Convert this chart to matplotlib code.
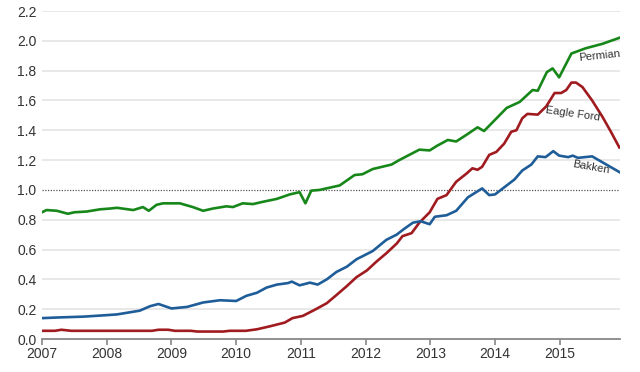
import numpy as np
import matplotlib
matplotlib.use("Agg")
import matplotlib.pyplot as plt

plt.rcParams['font.family'] = ['Liberation Sans', 'DejaVu Sans']

# decimal-year positions and values
permian_t = [2007.0, 2007.07, 2007.23, 2007.4, 2007.5, 2007.69, 2007.9, 2008.05, 2008.16, 2008.41,
             2008.56, 2008.65, 2008.77, 2008.87, 2009.13, 2009.33, 2009.49, 2009.64, 2009.85, 2009.95,
             2010.1, 2010.26, 2010.41, 2010.63, 2010.83, 2010.98, 2011.07, 2011.16, 2011.29, 2011.6,
             2011.83, 2011.95, 2012.11, 2012.4, 2012.52, 2012.83, 2012.99, 2013.1, 2013.27, 2013.4,
             2013.56, 2013.73, 2013.83, 2014.18, 2014.38, 2014.58, 2014.66, 2014.8, 2014.89, 2014.99,
             2015.18, 2015.4, 2015.66, 2015.92]
permian_v = [0.85, 0.865, 0.86, 0.84, 0.85, 0.855, 0.87, 0.875, 0.88, 0.865,
             0.885, 0.86, 0.90, 0.91, 0.91, 0.885, 0.86, 0.875, 0.89, 0.885,
             0.91, 0.905, 0.92, 0.94, 0.97, 0.985, 0.91, 0.995, 1.0, 1.03,
             1.10, 1.105, 1.14, 1.17, 1.20, 1.27, 1.265, 1.295, 1.335, 1.325,
             1.37, 1.42, 1.395, 1.55, 1.59, 1.67, 1.665, 1.79, 1.815, 1.755,
             1.915, 1.95, 1.98, 2.02]

eagle_t = [2007.0, 2007.2, 2007.3, 2007.45, 2008.7, 2008.8, 2008.95, 2009.05, 2009.3, 2009.4,
           2009.8, 2009.9, 2010.15, 2010.32, 2010.52, 2010.75, 2010.87, 2011.03, 2011.21, 2011.4,
           2011.55, 2011.71, 2011.86, 2012.02, 2012.17, 2012.32, 2012.48, 2012.57, 2012.71, 2012.83,
           2012.99, 2013.11, 2013.25, 2013.4, 2013.56, 2013.65, 2013.73, 2013.8, 2013.91, 2014.02,
           2014.14, 2014.25, 2014.33, 2014.42, 2014.5, 2014.66, 2014.79, 2014.92, 2015.02, 2015.1,
           2015.18, 2015.25, 2015.35, 2015.5, 2015.66, 2015.79, 2015.92]
eagle_v = [0.055, 0.055, 0.062, 0.055, 0.055, 0.062, 0.062, 0.055, 0.055, 0.05,
           0.05, 0.055, 0.055, 0.065, 0.085, 0.11, 0.14, 0.155, 0.195, 0.24,
           0.295, 0.355, 0.415, 0.46, 0.52, 0.575, 0.64, 0.69, 0.71, 0.78,
           0.85, 0.94, 0.965, 1.055, 1.11, 1.145, 1.135, 1.155, 1.235, 1.255,
           1.31, 1.39, 1.40, 1.48, 1.51, 1.505, 1.56, 1.65, 1.65, 1.67,
           1.72, 1.72, 1.69, 1.60, 1.49, 1.39, 1.285]

bakken_t = [2007.0, 2007.28, 2007.64, 2008.0, 2008.16, 2008.51, 2008.67, 2008.8, 2009.0, 2009.24,
            2009.49, 2009.75, 2010.0, 2010.16, 2010.32, 2010.47, 2010.63, 2010.8, 2010.86, 2010.98,
            2011.14, 2011.26, 2011.4, 2011.55, 2011.71, 2011.86, 2012.02, 2012.11, 2012.32, 2012.48,
            2012.6, 2012.73, 2012.85, 2012.99, 2013.07, 2013.25, 2013.4, 2013.58, 2013.8, 2013.91,
            2014.0, 2014.3, 2014.42, 2014.56, 2014.66, 2014.78, 2014.9, 2014.99, 2015.13, 2015.2,
            2015.28, 2015.5, 2015.92]
bakken_v = [0.14, 0.145, 0.15, 0.16, 0.165, 0.19, 0.22, 0.235, 0.205, 0.215,
            0.245, 0.26, 0.255, 0.29, 0.31, 0.345, 0.365, 0.375, 0.385, 0.36,
            0.378, 0.365, 0.40, 0.45, 0.485, 0.535, 0.57, 0.59, 0.665, 0.70,
            0.74, 0.78, 0.79, 0.77, 0.82, 0.83, 0.86, 0.95, 1.01, 0.965,
            0.97, 1.07, 1.13, 1.17, 1.225, 1.22, 1.26, 1.23, 1.22, 1.23,
            1.215, 1.225, 1.12]

years = list(range(2007, 2016))
yticks = [0.0, 0.2, 0.4, 0.6, 0.8, 1.0, 1.2, 1.4, 1.6, 1.8, 2.0, 2.2]

fig = plt.figure(figsize=(6.4, 3.72), dpi=100)
ax = fig.add_axes([0.0656, 0.0887, 0.9031, 0.8817])

for y in yticks[1:]:
    if y != 1.0:
        ax.axhline(y, color='#e8e8e8', lw=1.4, zorder=0)
ax.axhline(1.0, color='#555555', lw=0.9, ls=(0, (1, 1.2)), zorder=1)

ax.plot(permian_t, permian_v, color='#17871a', lw=1.9, zorder=3)
ax.plot(eagle_t, eagle_v, color='#a01b1f', lw=1.9, zorder=3)
ax.plot(bakken_t, bakken_v, color='#1f5d98', lw=1.9, zorder=3)

ax.text(2015.61, 1.90, 'Permian', fontsize=8, color='#333333', rotation=6, ha='center', va='center')
ax.text(2015.20, 1.51, 'Eagle Ford', fontsize=8, color='#333333', rotation=-8, ha='center', va='center')
ax.text(2015.49, 1.155, 'Bakken', fontsize=8, color='#333333', rotation=-10, ha='center', va='center')

ax.set_xlim(2007, 2015.93)
ax.set_ylim(0, 2.2)
ax.set_xticks(years)
ax.set_xticklabels([str(y) for y in years])
ax.set_yticks(yticks)
ax.set_yticklabels([f'{y:.1f}' for y in yticks])

for s in ['top', 'right', 'left']:
    ax.spines[s].set_visible(False)
ax.spines['bottom'].set_color('#888888')
ax.spines['bottom'].set_linewidth(1.3)
ax.tick_params(axis='x', length=4, width=1.2, color='#888888', labelsize=10, labelcolor='#333333', pad=2)
ax.tick_params(axis='y', length=0, labelsize=10, labelcolor='#333333', pad=4)

fig.savefig('out.png', dpi=100)
